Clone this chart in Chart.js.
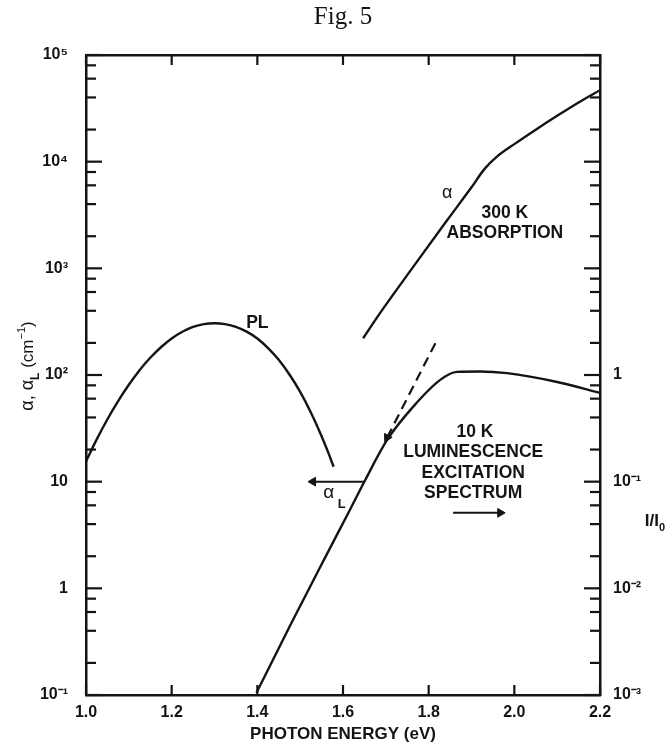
<!DOCTYPE html>
<html>
<head>
<meta charset="utf-8">
<script src="https://cdn.jsdelivr.net/npm/chart.js@4.4.1/dist/chart.umd.min.js"></script>
<style>
  html, body { margin: 0; padding: 0; background: #fff; }
  #wrap { width: 668px; height: 748px; }
</style>
</head>
<body>
<div id="wrap"><canvas id="fig5" width="668" height="748"></canvas></div>
<script>
// photon energy axis (eV)
const energyTicks = [1.0, 1.2, 1.4, 1.6, 1.8, 2.0, 2.2];
// left axis: alpha, alpha_L (cm^-1)
const alphaDecades = [0.1, 1, 10, 100, 1000, 10000, 100000];
const alphaLabels = ['10⁻¹', '1', '10', '10²', '10³', '10⁴', '10⁵'];
// right axis: I/I0
const ratioDecades = [0.001, 0.01, 0.1, 1];
const ratioLabels = ['10⁻³', '10⁻²', '10⁻¹', '1'];
const minorSteps = [2, 4, 6, 8];

// PL band, drawn against the alpha axis
const plEnergy = [1.00, 1.025, 1.05, 1.075, 1.10, 1.125, 1.15, 1.175, 1.20, 1.225, 1.25, 1.275, 1.30,
                  1.325, 1.35, 1.375, 1.40, 1.425, 1.45, 1.475, 1.50, 1.525, 1.55, 1.565, 1.578];
const plValue  = [15.5, 24.9, 38.5, 57, 81, 111, 145, 182, 220, 254, 282, 300, 306,
                  300, 283, 255, 220, 179, 139, 101, 69.5, 44.6, 26.7, 19.0, 13.8];

// 300 K absorption (alpha)
const absEnergy = [1.647, 1.686, 1.763, 1.843, 1.90, 1.93, 1.96, 2.00, 2.05, 2.10, 2.15, 2.20];
const absAlpha  = [221, 378, 1020, 2820, 5750, 8510, 11200, 14600, 19950, 26900, 35900, 46800];

// 10 K luminescence excitation spectrum (I/I0, right axis)
const lesEnergy = [1.398, 1.476, 1.553, 1.616, 1.651, 1.703, 1.763, 1.827, 1.866, 1.92, 1.983, 2.10, 2.20];
const lesRatio  = [0.00105, 0.00443, 0.0177, 0.0543, 0.102, 0.246, 0.50, 0.90, 1.07, 1.08, 1.04, 0.86, 0.68];

// dashed extrapolation of the edge
const extEnergy = [1.703, 1.8195];
const extRatio  = [0.259, 2.13];

// alpha_L read-off arrow (points to left axis)
const alEnergy = [1.651, 1.530];
const alAlpha  = [10, 10];

// arrow under SPECTRUM (points to right axis)
const toRightEnergy = [1.857, 1.967];
const toRightRatio  = [0.051, 0.051];

const ink = '#141414';
const sans = '"Liberation Sans", Arial, sans-serif';

const pts = (xs, ys) => xs.map((x, i) => ({ x: x, y: ys[i] }));

// text placed in data units of the alpha axis
const notes = [
  { text: 'PL', x: 1.40, y: 305 },
  { text: 'α', x: 1.843, y: 5050, weight: 'normal', size: 18 },
  { text: '300 K', x: 1.978, y: 3275 },
  { text: 'ABSORPTION', x: 1.978, y: 2130 },
  { text: '10 K', x: 1.908, y: 29.3 },
  { text: 'LUMINESCENCE', x: 1.904, y: 19.0 },
  { text: 'EXCITATION', x: 1.904, y: 12.1 },
  { text: 'SPECTRUM', x: 1.904, y: 7.83 }
];

function drawRuns(ctx, runs, cx, cy) {
  let w = 0;
  runs.forEach(r => {
    ctx.font = (r.weight || 'bold') + ' ' + r.size + 'px ' + sans;
    r.w = ctx.measureText(r.t).width;
    w += r.w;
  });
  let x = cx - w / 2;
  runs.forEach(r => {
    ctx.font = (r.weight || 'bold') + ' ' + r.size + 'px ' + sans;
    ctx.fillText(r.t, x, cy + (r.dy || 0));
    x += r.w;
  });
}

const inwardTicks = {
  id: 'inwardTicks',
  afterDatasetsDraw(chart) {
    const { ctx, chartArea: a, scales } = chart;
    ctx.save();
    ctx.strokeStyle = ink;
    ctx.lineWidth = 2.2;
    const seg = (x1, y1, x2, y2) => { ctx.beginPath(); ctx.moveTo(x1, y1); ctx.lineTo(x2, y2); ctx.stroke(); };
    energyTicks.forEach(v => {
      const px = scales.x.getPixelForValue(v);
      seg(px, a.bottom, px, a.bottom - 10);
      seg(px, a.top, px, a.top + 10);
    });
    alphaDecades.forEach((d, i) => {
      const py = scales.y.getPixelForValue(d);
      seg(a.left, py, a.left + 16, py);
      seg(a.right, py, a.right - 16, py);
      if (i === alphaDecades.length - 1) return;
      minorSteps.forEach(m => {
        const pm = scales.y.getPixelForValue(d * m);
        seg(a.left, pm, a.left + 10, pm);
        seg(a.right, pm, a.right - 10, pm);
      });
    });
    ctx.restore();
  }
};

const lettering = {
  id: 'lettering',
  afterDraw(chart) {
    const { ctx, scales } = chart;
    ctx.save();
    ctx.fillStyle = ink;
    ctx.textAlign = 'center';
    ctx.textBaseline = 'middle';
    notes.forEach(n => {
      ctx.font = (n.weight || 'bold') + ' ' + (n.size || 17.5) + 'px ' + sans;
      ctx.fillText(n.text, scales.x.getPixelForValue(n.x), scales.y.getPixelForValue(n.y));
    });

    ctx.textBaseline = 'alphabetic';
    ctx.font = '25px "Liberation Serif", "Times New Roman", serif';
    ctx.fillText('Fig. 5', 343, 24);

    ctx.textAlign = 'left';
    // alpha_L under the read-off arrow
    const ax = scales.x.getPixelForValue(1.58);
    const ay = scales.y.getPixelForValue(8.0);
    drawRuns(ctx, [
      { t: 'α', size: 19, weight: 'normal' },
      { t: ' L', size: 13, dy: 10 }
    ], ax, ay + 6);

    // right axis title
    drawRuns(ctx, [
      { t: 'I/I', size: 17 },
      { t: '0', size: 11, dy: 5 }
    ], 655, 526);

    // left axis title, rotated
    ctx.translate(27, 366);
    ctx.rotate(-Math.PI / 2);
    drawRuns(ctx, [
      { t: 'α, α', size: 18, weight: 'normal' },
      { t: 'L', size: 12, weight: 'bold', dy: 6 },
      { t: ' (cm', size: 17, weight: 'normal' },
      { t: '−1', size: 11, weight: 'normal', dy: -8 },
      { t: ')', size: 17, weight: 'normal' }
    ], 0, 6);
    ctx.restore();
  }
};

const tickFont = { family: sans, size: 16, weight: 'bold' };
const frame = { display: true, width: 2.5, color: ink };

const line = (data, axis, extra) => Object.assign({
  data: data,
  yAxisID: axis,
  borderColor: ink,
  backgroundColor: ink,
  borderWidth: 2.4,
  pointRadius: 0,
  fill: false,
  cubicInterpolationMode: 'monotone'
}, extra || {});

new Chart(document.getElementById('fig5'), {
  type: 'line',
  data: {
    datasets: [
      line(pts(plEnergy, plValue), 'y'),
      line(pts(absEnergy, absAlpha), 'y'),
      line(pts(lesEnergy, lesRatio), 'y2'),
      line(pts(extEnergy, extRatio), 'y2', {
        borderDash: [10, 6], borderWidth: 2.2,
        pointRadius: [5, 0], pointStyle: 'triangle', rotation: 207, pointBorderWidth: 1
      }),
      line(pts(alEnergy, alAlpha), 'y', {
        borderWidth: 2,
        pointRadius: [0, 5], pointStyle: 'triangle', rotation: 270, pointBorderWidth: 1
      }),
      line(pts(toRightEnergy, toRightRatio), 'y2', {
        borderWidth: 2,
        pointRadius: [0, 5], pointStyle: 'triangle', rotation: 90, pointBorderWidth: 1
      })
    ]
  },
  options: {
    responsive: false,
    animation: false,
    devicePixelRatio: 1,
    layout: { padding: 0 },
    plugins: { legend: { display: false }, tooltip: { enabled: false }, title: { display: false } },
    scales: {
      x: {
        type: 'linear', position: 'bottom', min: 1.0, max: 2.2,
        afterBuildTicks: s => { s.ticks = energyTicks.map(v => ({ value: v })); },
        afterFit: s => { s.height = 53; },
        grid: { display: false },
        border: frame,
        ticks: { font: tickFont, color: ink, padding: 0, maxRotation: 0, callback: v => v.toFixed(1) },
        title: { display: true, text: 'PHOTON ENERGY (eV)', color: ink,
                 font: { family: sans, size: 17, weight: 'bold' }, padding: { top: 0, bottom: 3 } }
      },
      x2: {
        type: 'linear', position: 'top', min: 1.0, max: 2.2,
        afterFit: s => { s.height = 55; },
        grid: { display: false },
        border: frame,
        ticks: { display: false }
      },
      y: {
        type: 'logarithmic', position: 'left', min: 0.1, max: 100000,
        afterBuildTicks: s => { s.ticks = alphaDecades.map(v => ({ value: v })); },
        afterFit: s => { s.width = 86; },
        grid: { display: false },
        border: frame,
        ticks: { font: tickFont, color: ink, padding: 10,
                 callback: v => alphaLabels[alphaDecades.indexOf(v)] }
      },
      y2: {
        type: 'logarithmic', position: 'right', min: 0.001, max: 1000,
        afterBuildTicks: s => { s.ticks = ratioDecades.map(v => ({ value: v })); },
        afterFit: s => { s.width = 68; },
        grid: { display: false },
        border: frame,
        ticks: { font: tickFont, color: ink, padding: 5,
                 callback: v => ratioLabels[ratioDecades.indexOf(v)] }
      }
    }
  },
  plugins: [inwardTicks, lettering]
});
</script>
</body>
</html>
